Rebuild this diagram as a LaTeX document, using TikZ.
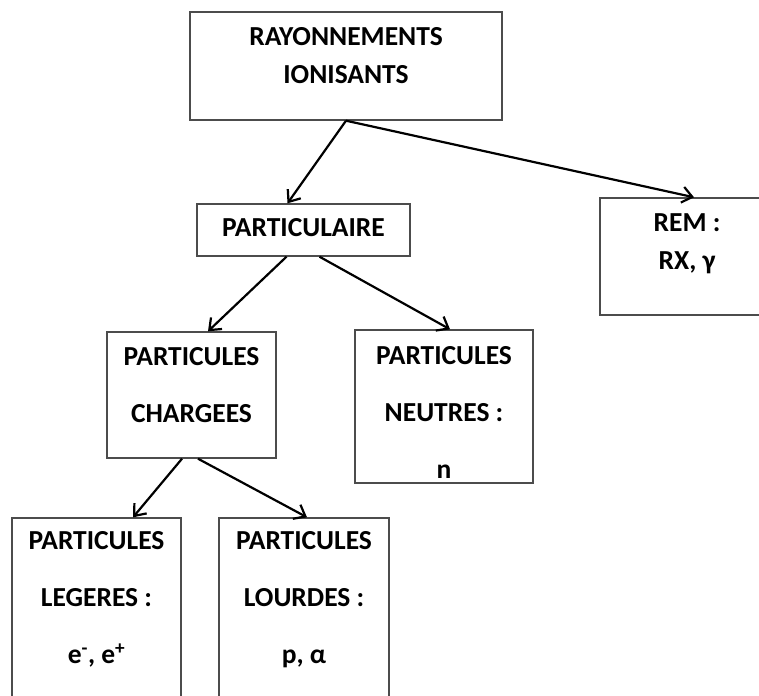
\documentclass[tikz,border=0pt]{standalone}
\usepackage{fontspec}
\setmainfont{Carlito}
\usetikzlibrary{arrows.meta}
\begin{document}
\begin{tikzpicture}
        [x=1pt, y=-1pt,
        box/.style={draw=black!70, line width=1.4pt, inner sep=0pt},
        txt/.style={font=\bfseries\fontsize{27.5}{38}\selectfont, align=center},
        txtwide/.style={font=\bfseries\fontsize{27.5}{57}\selectfont, align=center},
        arr/.style={-{Straight Barb[length=10pt,width=16pt]}, line width=2.2pt}]

        \useasboundingbox (0,0) rectangle (759,695);

        % Boxes
        \node[box, minimum width=312, minimum height=108] (ray) at (346,66) {};
        \node[box, minimum width=213, minimum height=52] (part) at (303.5,230) {};
        \node[box, minimum width=174, minimum height=117] (rem) at (687,256.5) {};
        \node[box, minimum width=169, minimum height=126] (chg) at (191.5,395) {};
        \node[box, minimum width=178, minimum height=153] (neu) at (444,406.5) {};
        \node[box, minimum width=169, minimum height=190] (leg) at (96.5,613) {};
        \node[box, minimum width=170, minimum height=190] (lou) at (304,613) {};

        % Texts
        \node[txt] (rayT) at (346,56) {RAYONNEMENTS\\IONISANTS};
        \node[txt] (partT) at (303.5,228) {PARTICULAIRE};
        \node[txt] (remT) at (687,244) {REM :\\RX, γ};
        \node[txtwide] (chgT) at (191.5,385) {PARTICULES\\CHARGEES};
        \node[txtwide] (neuT) at (444,412) {PARTICULES\\NEUTRES :\\n};
        \node[txtwide] (legT) at (96.5,599.5) {PARTICULES\\LEGERES :\\e\textsuperscript{-}, e\textsuperscript{+}};
        \node[txtwide] (louT) at (304,599.5) {PARTICULES\\LOURDES :\\p, α};

        % Arrows
        \draw[arr] (ray.south) -- ([xshift=-16pt]part.north);
        \draw[arr] (ray.south) -- ([xshift=7pt]rem.north);
        \draw[arr] ([xshift=-17pt]part.south) -- ([xshift=16.5pt]chg.north);
        \draw[arr] ([xshift=16pt]part.south) -- ([xshift=6pt]neu.north);
        \draw[arr] ([xshift=-9.5pt]chg.south) -- ([xshift=36.5pt]leg.north);
        \draw[arr] ([xshift=6.5pt]chg.south) -- ([xshift=3pt]lou.north);

\end{tikzpicture}
\end{document}
